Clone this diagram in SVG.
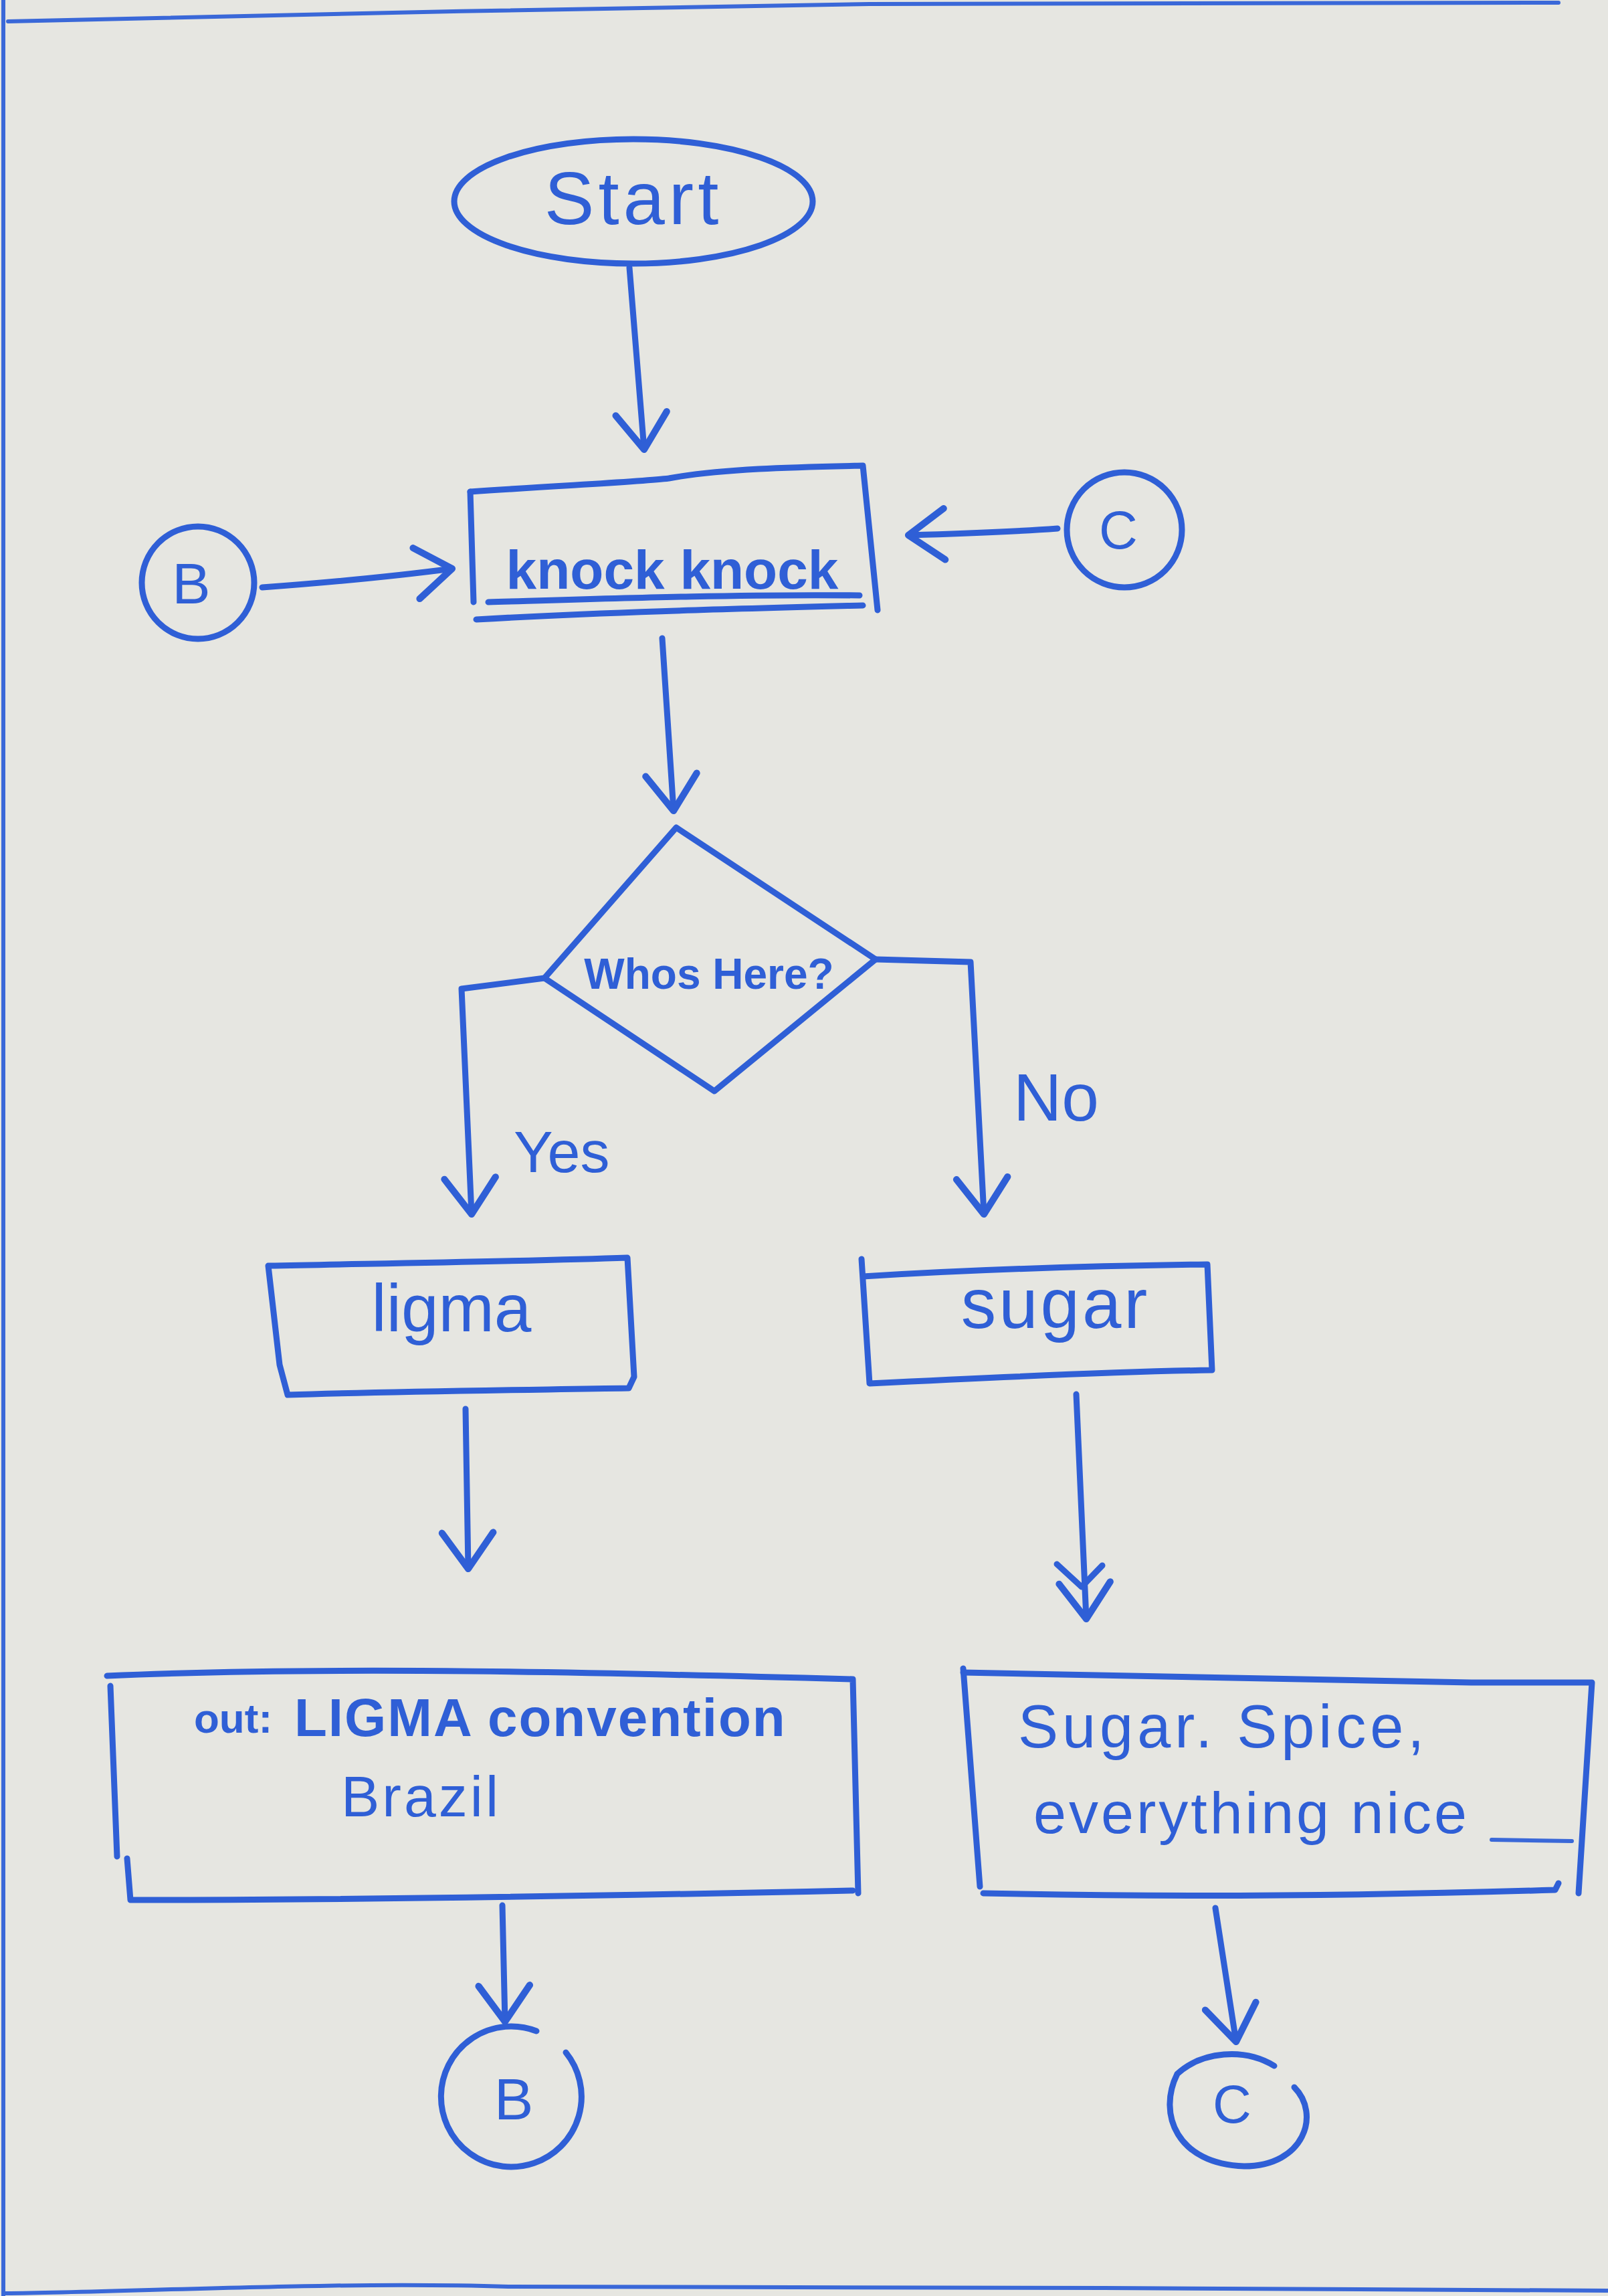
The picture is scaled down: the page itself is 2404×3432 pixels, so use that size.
<svg xmlns="http://www.w3.org/2000/svg" width="2404" height="3432" viewBox="0 0 2404 3432">
<defs>
<style>
.pen{fill:none;stroke:#2f5fd6;stroke-width:9;stroke-linecap:round;stroke-linejoin:round}
.thin{fill:none;stroke:#3a68d8;stroke-width:6;stroke-linecap:round}
.t{fill:#2f5fd6;font-family:"Liberation Sans","DejaVu Sans",sans-serif}
</style>
<marker id="ah" markerUnits="userSpaceOnUse" markerWidth="80" markerHeight="90" refX="52" refY="40" orient="auto" viewBox="0 0 60 80">
<path d="M4,6 L52,40 L4,74" fill="none" stroke="#2f5fd6" stroke-width="9" stroke-linecap="round" stroke-linejoin="round"/>
</marker>
</defs>
<rect width="2404" height="3432" fill="#e6e6e1"/>
<g id="page-border">
<path class="thin" d="M5,0 L5,3432"/>
<path class="thin" d="M12,32 C400,22 900,12 1300,6 L2330,4"/>
<path class="thin" d="M8,3428 C200,3426 500,3410 760,3418 L1650,3420 L2404,3424"/>
</g>
<g id="connectors">
<path class="pen" d="M941,400 L963,672" marker-end="url(#ah)"/>
<path class="pen" d="M392,878 C500,870 600,860 676,850" marker-end="url(#ah)"/>
<path class="pen" d="M1581,790 C1500,796 1420,798 1358,800" marker-end="url(#ah)"/>
<path class="pen" d="M990,954 L1007,1212" marker-end="url(#ah)"/>
<path class="pen" d="M814,1462 L690,1478 L705,1815" marker-end="url(#ah)"/>
<path class="pen" d="M1309,1434 L1451,1438 L1471,1815" marker-end="url(#ah)"/>
<path class="pen" d="M696,2106 L700,2345" marker-end="url(#ah)"/>
<path class="pen" d="M1609,2084 L1624,2420" marker-end="url(#ah)"/>
<path class="pen" d="M1580,2338 L1617,2372 L1648,2340"/>
<path class="pen" d="M751,2848 L755,3022" marker-end="url(#ah)"/>
<path class="pen" d="M1817,2852 L1848,3052" marker-end="url(#ah)"/>
<text class="t" x="768" y="1752" font-size="88">Yes</text>
<text class="t" x="1515" y="1675" font-size="100">No</text>
</g>
<g id="node-start">
<ellipse class="pen" cx="947" cy="301" rx="268" ry="93"/>
<text class="t" x="947" y="335" font-size="112" text-anchor="middle" letter-spacing="6">Start</text>
</g>
<g id="node-knock">
<path class="pen" d="M703,735 C850,725 960,720 1000,715 C1080,700 1200,698 1290,696 L1312,912"/>
<path class="pen" d="M703,735 L708,900"/>
<path class="pen" d="M712,926 C900,915 1100,910 1290,905"/>
<path class="pen" d="M730,900 C900,895 1100,888 1285,890"/>
<text class="t" x="1005" y="880" font-size="82" font-weight="bold" text-anchor="middle">knock knock</text>
</g>
<g id="node-B-top">
<circle class="pen" cx="296" cy="871" r="84"/>
<text class="t" x="286" y="902" font-size="86" text-anchor="middle">B</text>
</g>
<g id="node-C-top">
<circle class="pen" cx="1681" cy="792" r="86"/>
<text class="t" x="1672" y="820" font-size="80" text-anchor="middle">C</text>
</g>
<g id="node-decision">
<path class="pen" d="M1011,1237 L1309,1434 L1068,1631 L814,1462 Z"/>
<text class="t" x="1060" y="1478" font-size="64" font-weight="bold" text-anchor="middle">Whos Here?</text>
</g>
<g id="node-ligma">
<path class="pen" d="M401,1892 C600,1888 800,1885 938,1880 L948,2058 L940,2075 C760,2078 580,2080 430,2085 L418,2040 L401,1892"/>
<text class="t" x="675" y="1990" font-size="100" text-anchor="middle">ligma</text>
</g>
<g id="node-sugar">
<path class="pen" d="M1288,1882 L1300,2068 C1500,2058 1680,2050 1812,2048 L1805,1890 C1650,1892 1450,1898 1290,1908"/>
<text class="t" x="1578" y="1985" font-size="105" text-anchor="middle" letter-spacing="4">sugar</text>
</g>
<g id="node-out-ligma">
<path class="pen" d="M160,2505 C500,2490 900,2500 1275,2510 L1283,2830"/>
<path class="pen" d="M165,2520 L175,2775"/>
<path class="pen" d="M190,2778 L195,2840 C500,2840 900,2834 1275,2826"/>
<text class="t" x="290" y="2590" font-size="62" font-weight="bold">out:</text>
<text class="t" x="440" y="2595" font-size="80" font-weight="bold" letter-spacing="2">LIGMA convention</text>
<text class="t" x="510" y="2715" font-size="86" letter-spacing="4">Brazil</text>
</g>
<g id="node-out-sugar">
<path class="pen" d="M1440,2494 L1465,2820"/>
<path class="pen" d="M1440,2500 C1700,2505 1950,2510 2200,2515 L2380,2515 L2360,2830"/>
<path class="pen" d="M1470,2830 C1700,2835 2000,2835 2325,2825 L2330,2815"/>
<text class="t" x="1522" y="2612" font-size="90" letter-spacing="6">Sugar. Spice,</text>
<text class="t" x="1545" y="2740" font-size="88" letter-spacing="4">everything nice</text>
<path class="thin" d="M2230,2750 L2350,2752"/>
</g>
<g id="node-B-bottom">
<path class="pen" d="M846,3068 A105,105 0 1 1 802,3036"/>
<text class="t" x="768" y="3168" font-size="88" text-anchor="middle">B</text>
</g>
<g id="node-C-bottom">
<path class="pen" d="M1905,3088 A108,88 0 0 0 1760,3100 C1730,3160 1760,3235 1860,3238 C1950,3238 1975,3160 1935,3120"/>
<text class="t" x="1842" y="3173" font-size="80" text-anchor="middle">C</text>
</g>
</svg>
